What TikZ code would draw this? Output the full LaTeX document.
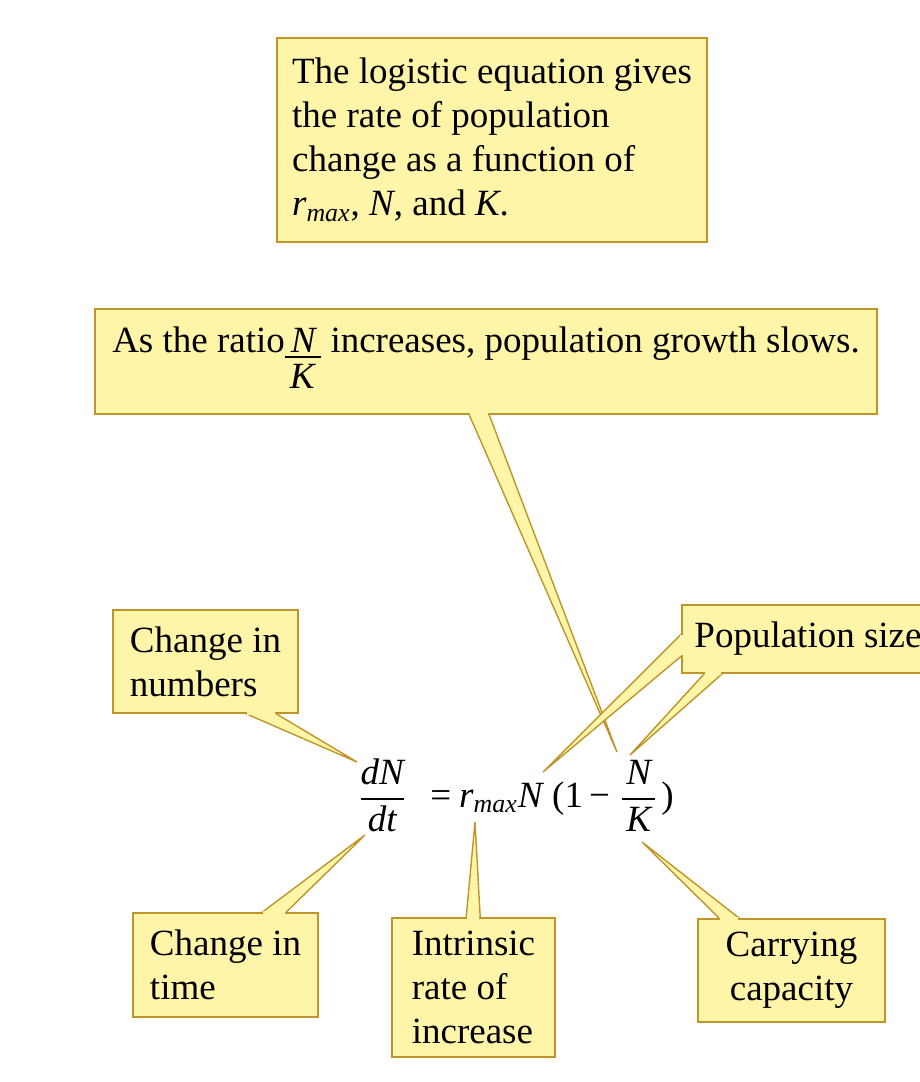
\documentclass[tikz,border=0pt]{standalone}
\usepackage{amsmath}
\usepackage{fontspec}
\setmainfont{Liberation Serif}
\usepackage{tikz}
\definecolor{notefill}{HTML}{FFF5A8}
\definecolor{noteedge}{HTML}{BF952A}
\tikzset{
  notebox/.style={draw=noteedge, fill=notefill, line width=0.8pt, inner sep=0pt, align=left, font=\fontsize{18.5}{22}\selectfont},
  notetail/.style={draw=noteedge, fill=notefill, line width=0.7pt, line join=miter},
  tailgap/.style={draw=notefill, line width=1.4pt, shorten <=0.4pt, shorten >=0.4pt},
  eqn/.style={inner sep=0pt, font=\fontsize{18.5}{22}\selectfont}
}

\begin{document}
\begin{tikzpicture}[x=0.5pt, y=-0.5pt]
  \useasboundingbox (0,0) rectangle (920,1082);

  \node[notebox, minimum width=215pt, minimum height=102pt] (logistic) at (492,140) {The logistic equation gives\\the rate of population\\change as a function of\\$\textit{r}_{\textit{max}}$, \textit{N}, and \textit{K}.};
  \node[notebox, minimum width=391pt, minimum height=52.5pt] (ratio) at (486,361.5) {As the ratio\begin{tabular}[t]{@{}c@{}}\underline{\hspace{3pt}\textit{N}\hspace{2pt}}\\[-4pt]\textit{K}\end{tabular} increases, population growth slows.};
  \node[notebox, minimum width=92.5pt, minimum height=51.5pt] (numbers) at (205.5,661.5) {Change in\\numbers};
  \node[notebox, minimum width=126pt, minimum height=34pt] (popsize) at (808,639) {Population size};
  \node[notebox, minimum width=92.5pt, minimum height=52pt] (time) at (225.5,965) {Change in\\time};
  \node[notebox, minimum width=81.5pt, minimum height=69.5pt] (intrinsic) at (473.5,987.5) {Intrinsic\\rate of\\increase};
  \node[notebox, align=center, minimum width=93.5pt, minimum height=51.5pt] (carrying) at (791.5,970.5) {Carrying\\capacity};

  \node[eqn] (logeq) at (516,795) {$\genfrac{}{}{0.8pt}{0}{\textit{dN}}{\textit{dt}}$\hspace{12pt}=\hspace{4pt}\textit{r}$_{\textit{max}}$\textit{N}\hspace{4pt}(1\hspace{3pt}−\hspace{5pt}$\genfrac{}{}{0.8pt}{0}{\hspace{2pt}\textit{N}\hspace{2pt}}{\textit{K}}$\hspace{2pt})};

  \coordinate (dNtop) at (357,762);
  \coordinate (dtbot) at (365,835);
  \coordinate (rmaxbot) at (475,822);
  \coordinate (Ntop) at (543,772);
  \coordinate (fracNtop) at (617,752);
  \coordinate (fracNside) at (630,755);
  \coordinate (fracKbot) at (642,842);

  \filldraw[notetail] ([xshift=187.5pt]ratio.south west) -- (fracNtop) -- ([xshift=197.5pt]ratio.south west);
  \draw[tailgap] ([xshift=187.5pt]ratio.south west) -- ([xshift=197.5pt]ratio.south west);
  \filldraw[notetail] ([xshift=67pt]numbers.south west) -- (dNtop) -- ([xshift=82pt]numbers.south west);
  \draw[tailgap] ([xshift=67pt]numbers.south west) -- ([xshift=82pt]numbers.south west);
  \filldraw[notetail] ([yshift=-15pt]popsize.north west) -- (Ntop) -- ([yshift=-26pt]popsize.north west);
  \draw[tailgap] ([yshift=-15pt]popsize.north west) -- ([yshift=-26pt]popsize.north west);
  \filldraw[notetail] ([xshift=11.5pt]popsize.south west) -- (fracNside) -- ([xshift=20.5pt]popsize.south west);
  \draw[tailgap] ([xshift=11.5pt]popsize.south west) -- ([xshift=20.5pt]popsize.south west);
  \filldraw[notetail] ([xshift=65pt]time.north west) -- (dtbot) -- ([xshift=77pt]time.north west);
  \draw[tailgap] ([xshift=65pt]time.north west) -- ([xshift=77pt]time.north west);
  \filldraw[notetail] ([xshift=37.5pt]intrinsic.north west) -- (rmaxbot) -- ([xshift=44.5pt]intrinsic.north west);
  \draw[tailgap] ([xshift=37.5pt]intrinsic.north west) -- ([xshift=44.5pt]intrinsic.north west);
  \filldraw[notetail] ([xshift=11pt]carrying.north west) -- (fracKbot) -- ([xshift=21pt]carrying.north west);
  \draw[tailgap] ([xshift=11pt]carrying.north west) -- ([xshift=21pt]carrying.north west);
\end{tikzpicture}
\end{document}
